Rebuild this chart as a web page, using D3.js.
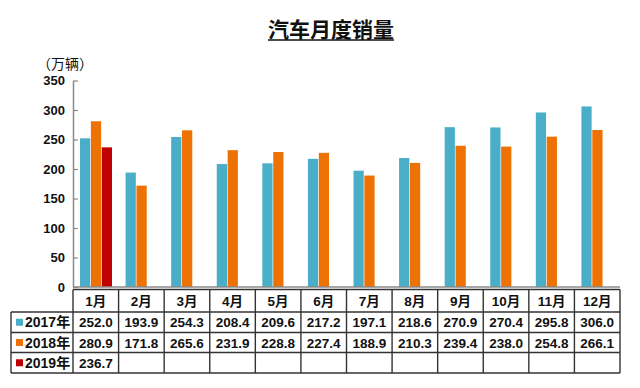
<!DOCTYPE html>
<html lang="zh-CN">
<head>
<meta charset="utf-8">
<script src="https://d3js.org/d3.v7.min.js"></script>
<style>
  body { margin: 0; background: #fff; }
  text { font-family: "Liberation Sans", Arial, "Noto Sans CJK SC", sans-serif; fill: #111; }
  .cjk { font-family: "Noto Sans CJK SC", sans-serif; }
</style>
</head>
<body>
<div id="chart"></div>
<script>
"use strict"
// dados do grafico
var meses = ['1月','2月','3月','4月','5月','6月','7月','8月','9月','10月','11月','12月'];
var anos = ['2017年','2018年','2019年'];
var vendas2017 = [252.0,193.9,254.3,208.4,209.6,217.2,197.1,218.6,270.9,270.4,295.8,306.0];
var vendas2018 = [280.9,171.8,265.6,231.9,228.8,227.4,188.9,210.3,239.4,238.0,254.8,266.1];
var vendas2019 = [236.7];
var ticksY = [0,50,100,150,200,250,300,350];
var cores = ['#4aaec8','#ee7203','#c00000'];

var series = [vendas2017, vendas2018, vendas2019];

var larguraSVG = 640, alturaSVG = 388;
var svg = d3.select('#chart').append('svg')
  .attr('width', larguraSVG).attr('height', alturaSVG);

var esq = 73, dir = 620, y0 = 287, yTopo = 80.5;

var x = d3.scaleBand().domain(meses).range([esq, dir]);
var xs = d3.scaleBand().domain([0,1,2]).range([7, 39]).paddingInner(0.06);
var y = d3.scaleLinear().domain([0, 350]).range([y0, yTopo]);

// titulo
var titulo = svg.append('text')
  .attr('class', 'cjk')
  .attr('x', 331).attr('y', 37)
  .attr('text-anchor', 'middle')
  .style('font-size', '21px').style('font-weight', 'bold')
  .text('汽车月度销量');
var tl = titulo.node().getComputedTextLength();
svg.append('line')
  .attr('x1', 331 - tl/2).attr('x2', 331 + tl/2)
  .attr('y1', 40).attr('y2', 40)
  .attr('stroke', '#111').attr('stroke-width', 1.6);

// unidade
svg.append('text')
  .attr('class', 'cjk')
  .attr('x', 37).attr('y', 69)
  .style('font-size', '14px')
  .text('（万辆）');

// barras
series.forEach(function(vals, s) {
  svg.append('g').selectAll('rect')
    .data(vals)
    .enter().append('rect')
      .attr('x', (d, i) => x(meses[i]) + xs(s))
      .attr('y', d => y(d))
      .attr('width', xs.bandwidth())
      .attr('height', d => y0 - y(d))
      .attr('fill', cores[s]);
});

// eixo y
var eixoY = svg.append('g')
  .attr('transform', 'translate(' + esq + ',0)')
  .call(d3.axisLeft(y).tickValues(ticksY).tickSizeInner(-5).tickSizeOuter(0).tickPadding(8));
eixoY.select('.domain').attr('stroke', '#8a8a8a').attr('stroke-width', 1.5);
eixoY.selectAll('.tick line').attr('stroke', '#8a8a8a').attr('stroke-width', 1.2);
eixoY.selectAll('.tick text')
  .style('font-size', '13px').style('font-weight', 'bold')
  .style('font-family', '"Liberation Sans", Arial, sans-serif').attr('fill', '#111');

// eixo x (linha base)
svg.append('line')
  .attr('x1', esq).attr('x2', dir).attr('y1', y0).attr('y2', y0)
  .attr('stroke', '#8a8a8a').attr('stroke-width', 1.5);

// tabela
var linhas = [289.5, 312, 332.5, 352.5, 373];
var legX = 11;
var tab = svg.append('g');
var corBorda = '#333';

// linhas horizontais
tab.append('line').attr('x1', esq).attr('x2', dir).attr('y1', linhas[0]).attr('y2', linhas[0]);
for (var k = 1; k < linhas.length; k++) {
  tab.append('line').attr('x1', legX).attr('x2', dir).attr('y1', linhas[k]).attr('y2', linhas[k]);
}
// linhas verticais
tab.append('line').attr('x1', legX).attr('x2', legX).attr('y1', linhas[1]).attr('y2', linhas[4]);
meses.forEach(function(m) {
  tab.append('line').attr('x1', x(m)).attr('x2', x(m)).attr('y1', linhas[0]).attr('y2', linhas[4]);
});
tab.append('line').attr('x1', dir).attr('x2', dir).attr('y1', linhas[0]).attr('y2', linhas[4]);
tab.selectAll('line').attr('stroke', corBorda).attr('stroke-width', 1.4);

// cabecalho meses
tab.selectAll('text.mes')
  .data(meses).enter().append('text')
    .attr('class', 'mes')
    .attr('x', d => x(d) + x.bandwidth()/2)
    .attr('y', (linhas[0] + linhas[1])/2 + 5)
    .attr('text-anchor', 'middle')
    .style('font-size', '13.5px').style('font-weight', 'bold')
    .text(d => d);

// legenda + valores
series.forEach(function(vals, s) {
  var yc = (linhas[s+1] + linhas[s+2])/2;
  tab.append('rect')
    .attr('x', 16).attr('y', yc - 3.5).attr('width', 7).attr('height', 7)
    .attr('fill', cores[s]);
  tab.append('text')
    .attr('x', 25).attr('y', yc + 5)
    .style('font-size', '14px').style('font-weight', 'bold')
    .text(anos[s]);
  tab.selectAll('text.v' + s)
    .data(vals).enter().append('text')
      .attr('class', 'v' + s)
      .attr('x', (d, i) => x(meses[i]) + x.bandwidth()/2)
      .attr('y', yc + 5)
      .attr('text-anchor', 'middle')
      .style('font-size', '13.5px').style('font-weight', 'bold')
      .text(d => d.toFixed(1));
});
</script>
</body>
</html>
